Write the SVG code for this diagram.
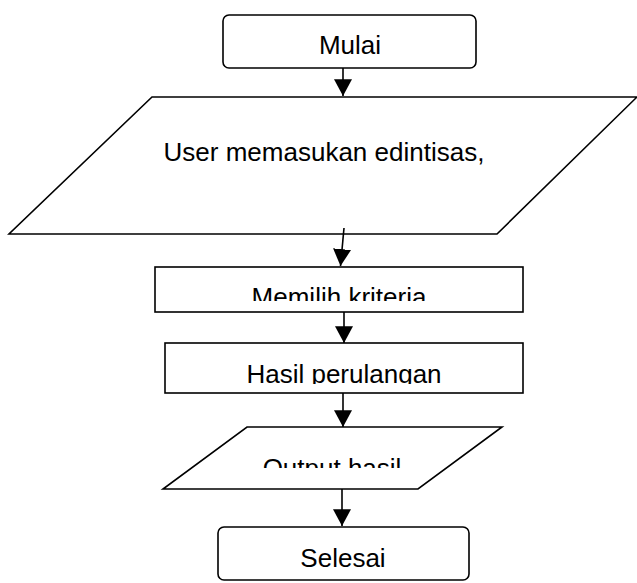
<svg xmlns="http://www.w3.org/2000/svg" width="637" height="583" viewBox="0 0 637 583">
<style>
.shape{fill:#fff;stroke:#000;stroke-width:1.6}
.lbl{font-family:"Liberation Sans",Arial,sans-serif;font-size:26px;fill:#000;text-anchor:middle}
.conn{stroke:#000;stroke-width:1.6;fill:none}
</style>
<defs>
<marker id="arr" markerUnits="userSpaceOnUse" markerWidth="18" markerHeight="18" viewBox="0 0 16 16" refX="15" refY="8" orient="auto">
<path d="M0,0 L15,8 L0,16 Z" fill="#000"/>
</marker>
<clipPath id="c1"><rect x="155" y="267" width="368" height="34"/></clipPath>
<clipPath id="c2"><rect x="165" y="343" width="358" height="41"/></clipPath>
<clipPath id="c3"><rect x="160" y="427" width="345" height="41"/></clipPath>
</defs>
<g id="mulai">
<rect class="shape" x="223" y="15" width="253" height="53" rx="6" ry="6"/>
<text class="lbl" x="350" y="54">Mulai</text>
</g>
<g id="input">
<polygon class="shape" points="152,97 637,97 497,234 9,234"/>
<text class="lbl" x="324" y="161">User memasukan edintisas,</text>
</g>
<g id="kriteria">
<rect class="shape" x="155" y="267" width="368" height="45"/>
<text class="lbl" x="339" y="306" clip-path="url(#c1)">Memilih kriteria</text>
</g>
<g id="hasil">
<rect class="shape" x="165" y="343" width="358" height="50"/>
<text class="lbl" x="344" y="383" clip-path="url(#c2)">Hasil perulangan</text>
</g>
<g id="output">
<polygon class="shape" points="247,427 502,427 418,489 163,489"/>
<text class="lbl" x="332" y="477" clip-path="url(#c3)">Output hasil</text>
</g>
<g id="selesai">
<rect class="shape" x="218" y="527" width="251" height="53" rx="6" ry="6"/>
<text class="lbl" x="343" y="567">Selesai</text>
</g>
<g id="connectors">
<line class="conn" x1="343" y1="68" x2="343" y2="96" marker-end="url(#arr)"/>
<line class="conn" x1="344" y1="228" x2="340.5" y2="266" marker-end="url(#arr)"/>
<line class="conn" x1="344" y1="312" x2="344" y2="343" marker-end="url(#arr)"/>
<line class="conn" x1="343" y1="393" x2="343" y2="427" marker-end="url(#arr)"/>
<line class="conn" x1="342" y1="489" x2="342" y2="526" marker-end="url(#arr)"/>
</g>
</svg>
